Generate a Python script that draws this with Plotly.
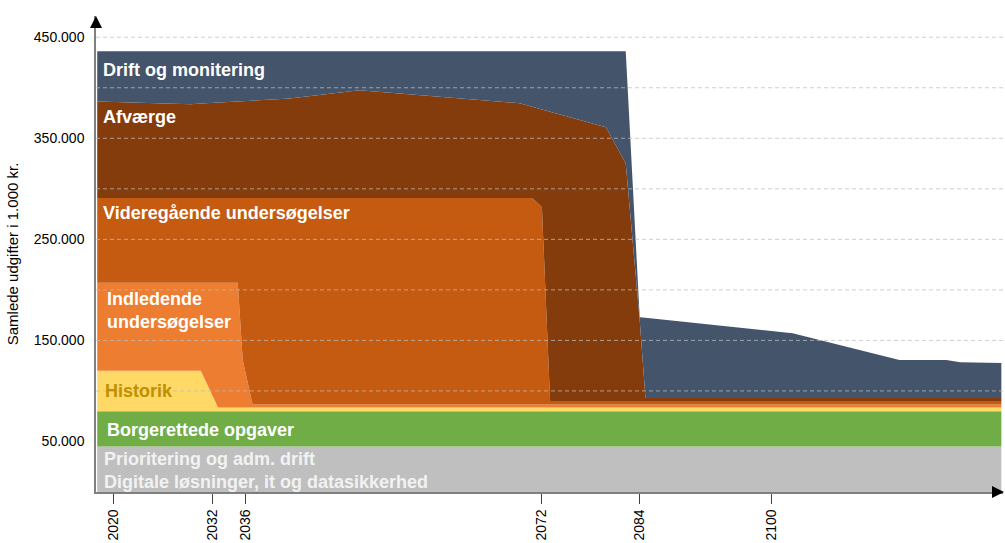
import plotly.graph_objects as go

# ---- data (values in 1.000 kr.) ----
years = [2018.0, 2029.4, 2030.6, 2032.7, 2035.1, 2035.7, 2036.9, 2041.4, 2049.9,
         2066.9, 2069.4, 2070.9, 2072.1, 2073.1, 2079.9, 2082.3, 2084.0, 2084.7,
         2102.6, 2107.4, 2111.5, 2115.6, 2121.3, 2123.0, 2128.0]

prioritering = [45000] * 25
borgerettede = [35000] * 25
historik = [40000, 40000, 40000, 3500, 3500, 3500, 3500, 3500, 3500,
            3500, 3500, 3500, 3500, 3500, 3500, 3500, 3500, 3500,
            3500, 3500, 3500, 3500, 3500, 3500, 3500]
indledende = [87000, 87000, 87000, 123500, 123500, 47100, 3000, 3000, 3000,
              3000, 3000, 3000, 3000, 3000, 3000, 3000, 3000, 3000,
              3000, 3000, 3000, 3000, 3000, 3000, 3000]
videregaaende = [84000, 84000, 84000, 84000, 84000, 160400, 204500, 204500, 204500,
                 204500, 204500, 204500, 195500, 3500, 3500, 3500, 3500, 3500,
                 3500, 3500, 3500, 3500, 3500, 3500, 3500]
afvaerge = [95400, 92800, 93400, 94400, 95600, 95900, 96500, 98400, 106600,
            95700, 93700, 90300, 96600, 286300, 271000, 235000, 80000, 3000,
            3000, 3000, 3000, 3000, 3000, 3000, 3000]
drift = [49600, 52200, 51600, 50600, 49400, 49100, 48500, 46600, 38400,
         49300, 51300, 54700, 57400, 59700, 75000, 111000, 3000, 79500,
         64000, 54000, 46000, 37600, 37500, 35500, 34600]

series = [
    ("Prioritering og adm. drift", prioritering, "#BFBFBF"),
    ("Borgerettede opgaver", borgerettede, "#70AD47"),
    ("Historik", historik, "#FFD966"),
    ("Indledende undersøgelser", indledende, "#ED7D31"),
    ("Videregående undersøgelser", videregaaende, "#C55A11"),
    ("Afværge", afvaerge, "#843C0C"),
    ("Drift og monitering", drift, "#44546A"),
]

x_ticks = [2020, 2032, 2036, 2072, 2084, 2100]
y_ticks = [50000, 150000, 250000, 350000, 450000]
grid_vals = [100000, 150000, 200000, 250000, 300000, 350000, 400000, 450000]

# labels: (text, x, y, colour)
labels = [
    ("Drift og monitering", 2018.4, 418000, "white"),
    ("Afværge", 2018.4, 371000, "white"),
    ("Videregående undersøgelser", 2018.4, 276000, "white"),
    ("Indledende<br>undersøgelser", 2019.0, 180000, "white"),
    ("Historik", 2018.7, 100000, "#BF9000"),
    ("Borgerettede opgaver", 2018.9, 61000, "white"),
    ("Prioritering og adm. drift<br>Digitale løsninger, it og datasikkerhed", 2018.6, 21000, "#F2F2F2"),
]

fig = go.Figure()
for name, vals, col in series:
    fig.add_trace(go.Scatter(
        x=years, y=vals, name=name, mode="lines", stackgroup="one",
        line=dict(width=0, color=col), fillcolor=col, hoverinfo="skip"))

for text, xx, yy, col in labels:
    fig.add_annotation(x=xx, y=yy, xref="x", yref="y", text="<b>" + text.replace("<br>", "</b><br><b>") + "</b>",
                       showarrow=False, xanchor="left", yanchor="middle", align="left",
                       font=dict(family="Arial", size=18, color=col))

shapes = []
for g in grid_vals:
    shapes.append(dict(type="line", xref="paper", x0=0, x1=1, yref="y", y0=g, y1=g,
                       layer="above", line=dict(color="rgba(190,190,190,0.75)", width=1, dash="4px,3px")))

# axis arrows
fig.add_annotation(x=0, y=1, xref="paper", yref="paper", ax=0, ay=12,
                   text="", showarrow=True, arrowhead=2, arrowsize=1.6, arrowwidth=1.5, arrowcolor="black")
fig.add_annotation(x=1.009, y=0, xref="paper", yref="paper", ax=-12, ay=0,
                   text="", showarrow=True, arrowhead=2, arrowsize=1.6, arrowwidth=1.5, arrowcolor="black")

fig.update_layout(
    width=1005, height=543,
    margin=dict(l=96, r=2, t=16, b=51),
    plot_bgcolor="white", paper_bgcolor="white",
    showlegend=False,
    separators=",.",
    font=dict(family="Arial", size=14, color="black"),
    shapes=shapes,
    xaxis=dict(range=[2017.85, 2128.2], tickvals=x_ticks, tickangle=-90, automargin=False,
               showgrid=False, zeroline=False, showline=True, linecolor="#7F7F7F", linewidth=1.5,
               ticks="outside", ticklen=10, tickcolor="#404040", tickwidth=1,
               tickfont=dict(size=14, color="black")),
    yaxis=dict(range=[0, 471000], tickvals=y_ticks, tickformat=",d", automargin=False,
               showgrid=False, zeroline=False, showline=True, linecolor="#7F7F7F", linewidth=1.5,
               ticks="", ticklabelstandoff=7,
               title=dict(text="Samlede udgifter i 1.000 kr.", font=dict(size=15), standoff=12),
               tickfont=dict(size=14, color="black")),
)

fig.write_html("out.html", config={"displayModeBar": False},
               post_script="document.body.style.margin='0';document.body.style.overflow='hidden';")
